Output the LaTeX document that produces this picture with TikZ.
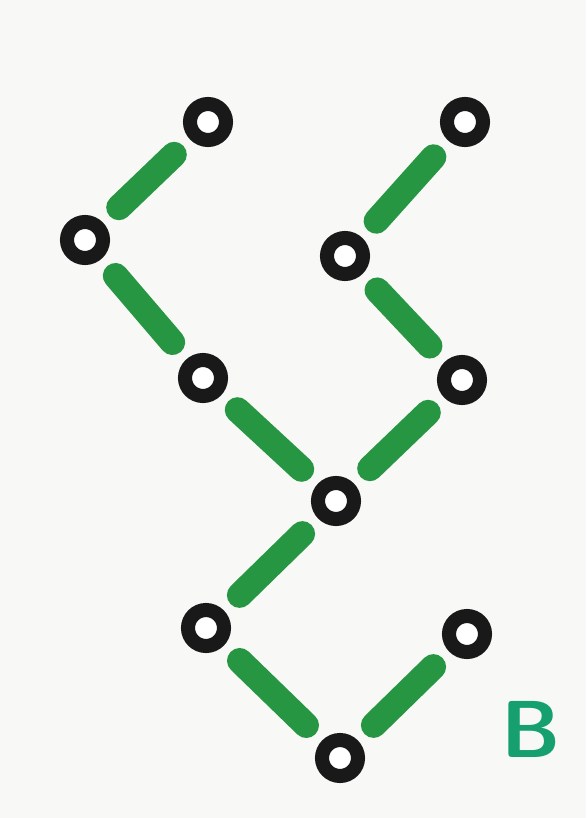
\documentclass[tikz,border=0pt]{standalone}
\usepackage{tikz}
\usetikzlibrary{positioning, calc}
\definecolor{paper}{RGB}{248,248,246}
\definecolor{barg}{RGB}{38,150,66}
\definecolor{letterg}{RGB}{22,160,112}
\begin{document}
\begin{tikzpicture}[x=0.02cm, y=-0.02cm,
  ring/.style={circle, draw=black!90, line width=8pt, fill=white, minimum size=0.72cm, inner sep=0pt},
  bar/.style={draw=barg, line width=14.5pt, line cap=round, shorten <=0.44cm, shorten >=0.44cm}]
  \fill[paper] (0,0) rectangle (586,818);
  \useasboundingbox (0,0) rectangle (586,818);
  % left branch
  \node[ring] (a1) at (208,122) {};
  \node[ring] (a2) at (85,240) {};
  \node[ring] (a3) at (203,378) {};
  % right branch
  \node[ring] (b1) at (465,122) {};
  \node[ring] (b2) at (345,256) {};
  \node[ring] (b3) at (462,380) {};
  % middle and bottom
  \node[ring] (mid) at (336,501) {};
  \node[ring] (c1) at (206,628) {};
  \node[ring] (c2) at (340,758) {};
  \node[ring] (c3) at (467,634) {};
  \node[text=letterg, font=\sffamily\bfseries\fontsize{46}{46}\selectfont] (sig) at (531,729) {B};
  \begin{scope}[on background layer/.try]
  \draw[bar] (a1)--(a2); \draw[bar] (a2)--(a3); \draw[bar] (a3)--(mid);
  \draw[bar] (b1)--(b2); \draw[bar] (b2)--(b3); \draw[bar] (b3)--(mid);
  \draw[bar] (mid)--(c1); \draw[bar] (c1)--(c2); \draw[bar] (c2)--(c3);
  \end{scope}
\end{tikzpicture}
\end{document}
